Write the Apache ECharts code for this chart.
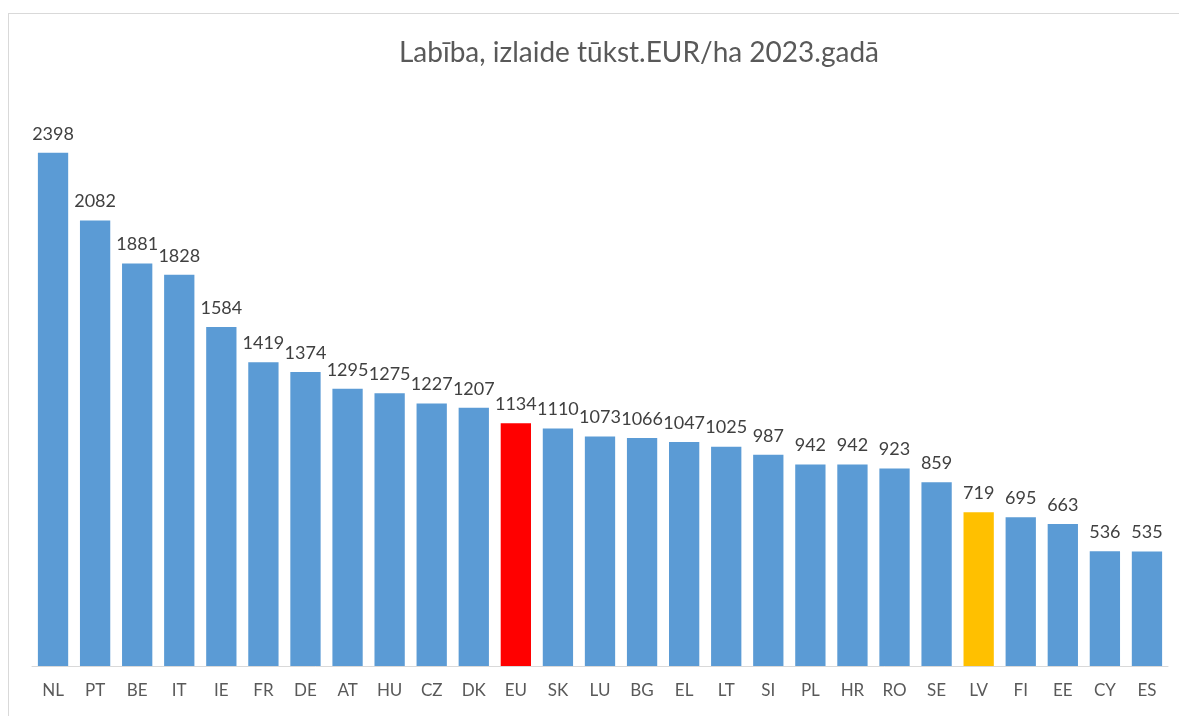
<!DOCTYPE html>
<html>
<head>
<meta charset="utf-8">
<script src="https://cdn.jsdelivr.net/npm/echarts@6/dist/echarts.min.js"></script>
<style>
  html, body { margin: 0; padding: 0; background: #fff; }
  #frame { position: absolute; left: 8px; top: 13px; width: 1300px; height: 800px; border: 1px solid #d9d9d9; box-sizing: border-box; }
  #main { position: absolute; left: 0; top: 0; width: 1179px; height: 716px; }
</style>
</head>
<body>
<div id="frame"></div>
<div id="main"></div>
<script>
var countries = ['NL', 'PT', 'BE', 'IT', 'IE', 'FR', 'DE', 'AT', 'HU', 'CZ', 'DK', 'EU', 'SK', 'LU', 'BG',
  'EL', 'LT', 'SI', 'PL', 'HR', 'RO', 'SE', 'LV', 'FI', 'EE', 'CY', 'ES']
var output = [2398, 2082, 1881, 1828, 1584, 1419, 1374, 1295, 1275, 1227, 1207, 1134, 1110, 1073, 1066,
  1047, 1025, 987, 942, 942, 923, 859, 719, 695, 663, 536, 535]
var highlight = {EU: '#ff0000', LV: '#ffc000'}

var myChart = echarts.init(document.getElementById('main'))

var font = 'Lato, "Open Sans", sans-serif'

var option = {
  animation: false,
  title: {
    text: 'Labība, izlaide tūkst.EUR/ha 2023.gadā',
    left: 634,
    top: 34,
    textAlign: 'center',
    textStyle: {fontFamily: font, fontSize: 28, fontWeight: 'normal', color: '#595959'}
  },
  grid: {left: 32, right: 11, top: 131, bottom: 50},
  xAxis: {
    type: 'category',
    data: countries,
    axisLine: {lineStyle: {color: '#d9d9d9', width: 1}},
    axisTick: {show: false},
    axisLabel: {fontFamily: font, fontSize: 17, color: '#595959', margin: 16, interval: 0}
  },
  yAxis: {
    type: 'value',
    min: 0,
    max: 2500,
    show: false,
    splitLine: {show: false}
  },
  series: [{
    type: 'bar',
    barCategoryGap: '28%',
    data: output.map(function (v, i) {
      var c = highlight[countries[i]]
      return c ? {value: v, itemStyle: {color: c}} : v
    }),
    itemStyle: {color: '#5b9bd5'},
    label: {
      show: true,
      position: 'top',
      distance: 10,
      fontFamily: font,
      fontSize: 18,
      color: '#404040'
    }
  }]
}

myChart.setOption(option)
</script>
</body>
</html>
